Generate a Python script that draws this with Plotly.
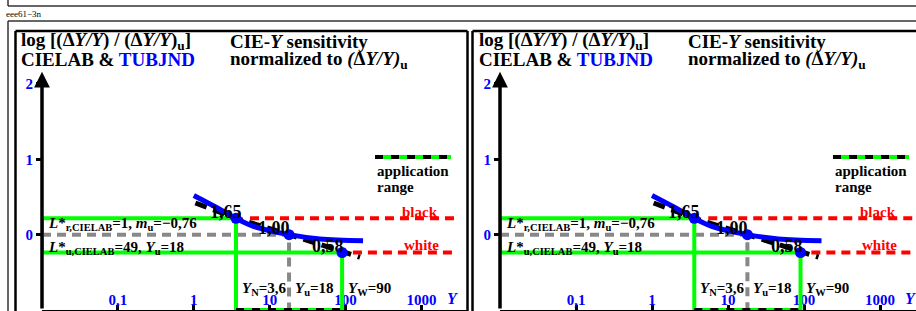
import math
import plotly.graph_objects as go

W, H = 916, 311

# ---------------- data ----------------
Y_ref = [3.6, 18, 90]                 # Y_N, Y_u, Y_W
ratio_text = ["1,65", "1,00", "0,58"]
log_ratio = [0.217, 0.0, -0.237]      # log of the ratios above

tub_Y = [1.0, 2.0, 3.6, 6.1, 18, 46, 170]          # TUBJND curve (blue)
tub_v = [0.52, 0.36, 0.217, 0.11, 0.0, -0.057, -0.08]

lab_Y = [1.05, 3.6, 18, 90, 155]                   # CIELAB curve (black dashed)
lab_v = [0.42, 0.217, 0.0, -0.237, -0.30]

red_Y_start = [5.5, 125]              # "black" / "white" red dashed lines
red_Y_end = 3000
red_v = [0.217, -0.237]

x_tickvals = [0.1, 1, 10, 100, 1000]
x_ticktext = ["0,1", "1", "10", "100", "1000"]
y_tickvals = [-1, 0, 1, 2]
y_ticktext = ["\u22121", "0", "1", "2"]

Y_AXIS = 0.01        # position of the vertical axis
Y_BOTTOM = -1        # position of the horizontal axis

FONT = "Liberation Serif, Times New Roman, serif"
GREEN = "#00ff00"
RED = "#ff0000"
BLUE = "#0000ff"
GREY = "#888888"


def P(px, py):
    return px / W, 1 - py / H


fig = go.Figure()
annotations = []
shapes = []

panels = [("x", "y", 0, [42, 467], [-2, 3.6]),
          ("x2", "y2", 458, [500, 916], [-2, -2 + (916 - 500) / 76.0])]

for xa, ya, off, dom, xr in panels:
    common = dict(xaxis=xa, yaxis=ya, hoverinfo="skip", showlegend=False)
    # grey dashed reference lines (Y_u)
    fig.add_trace(go.Scatter(x=[Y_AXIS, Y_ref[1], Y_ref[1]],
                             y=[log_ratio[1], log_ratio[1], Y_BOTTOM],
                             mode="lines", line=dict(color=GREY, width=4, dash="9px,6px"), **common))
    # green frame lines
    fig.add_trace(go.Scatter(x=[Y_ref[0], Y_ref[0], Y_AXIS, Y_AXIS, Y_ref[2], Y_ref[2]],
                             y=[Y_BOTTOM, log_ratio[0], log_ratio[0], log_ratio[2], log_ratio[2], Y_BOTTOM],
                             mode="lines", line=dict(color=GREEN, width=4), **common))
    # application range along the Y axis
    fig.add_trace(go.Scatter(x=[Y_ref[0], Y_ref[2]], y=[Y_BOTTOM, Y_BOTTOM], mode="lines",
                             line=dict(color=GREEN, width=4), **common))
    fig.add_trace(go.Scatter(x=[Y_ref[0], Y_ref[2]], y=[Y_BOTTOM, Y_BOTTOM], mode="lines",
                             line=dict(color="black", width=4, dash="8px,8px"), **common))
    # red dashed lines
    for ys, v in zip(red_Y_start, red_v):
        fig.add_trace(go.Scatter(x=[ys, red_Y_end], y=[v, v], mode="lines",
                                 line=dict(color=RED, width=4, dash="9px,6px"), **common))
    # CIELAB black dashed
    fig.add_trace(go.Scatter(x=lab_Y, y=lab_v, mode="lines",
                             line=dict(color="black", width=5, dash="12px,7px"), **common))
    # TUBJND blue curve
    fig.add_trace(go.Scatter(x=tub_Y, y=tub_v, mode="lines",
                             line=dict(color=BLUE, width=5, shape="spline"), **common))
    # dots
    fig.add_trace(go.Scatter(x=Y_ref, y=log_ratio, mode="markers",
                             marker=dict(color=BLUE, size=11), **common))

    # ratio labels
    for (yv, vv, t, dx, dy) in zip(Y_ref, log_ratio, ratio_text, [-10, -15, -14], [6, 7, 7]):
        annotations.append(dict(x=math.log10(yv), y=vv, xref=xa, yref=ya, text="<b>%s</b>" % t,
                                showarrow=False, xshift=dx, yshift=dy,
                                font=dict(family=FONT, size=18, color="black")))
    # y axis with arrow
    annotations.append(dict(x=math.log10(Y_AXIS), y=2.16, ax=math.log10(Y_AXIS), ay=Y_BOTTOM,
                            xref=xa, yref=ya, axref=xa, ayref=ya, text="", showarrow=True,
                            arrowhead=2, arrowsize=0.9, arrowwidth=3.5, arrowcolor="black"))

    def ann(px, py, text, size, color="black", xanchor="left"):
        x, y = P(px + off, py)
        annotations.append(dict(x=x, y=y, xref="paper", yref="paper", text=text,
                                showarrow=False, xanchor=xanchor, yanchor="middle",
                                font=dict(family=FONT, size=size, color=color)))

    ann(19, 40.5, "<b>log [(\u0394<i>Y/Y</i>) / (\u0394<i>Y/Y</i>)<sub>u</sub>]</b>", 19)
    ann(19, 60, "<b>CIELAB &amp; <span style='color:%s'>TUBJND</span></b>" % BLUE, 19)
    ann(228, 42, "<b>CIE-<i>Y</i> sensitivity</b>", 19)
    ann(228, 60.5, "<b>normalized to <i>(</i>\u0394<i>Y/Y)</i><sub>u</sub></b>", 19)

    ann(375, 171, "<b>application</b>", 15)
    ann(375, 187, "<b>range</b>", 15)
    ann(420, 212, "<b>black</b>", 15, RED, "center")
    ann(421, 245, "<b>white</b>", 15, RED, "center")

    ann(46, 224, "<b><i>L</i>*<sub>r,CIELAB</sub>=1, <i>m</i><sub>u</sub>=\u22120,76</b>", 15)
    ann(46, 248, "<b><i>L</i>*<sub>u,CIELAB</sub>=49, <i>Y</i><sub>u</sub>=18</b>", 15)
    ann(240, 289, "<b><i>Y</i><sub>N</sub>=3,6</b>", 15)
    ann(293, 289, "<b><i>Y</i><sub>u</sub>=18</b>", 15)
    ann(346, 289, "<b><i>Y</i><sub>W</sub>=90</b>", 15)
    ann(452, 298, "<b><i>Y</i></b>", 16, BLUE, "center")

    # legend line for application range
    x0, y0 = P(375 + off, 157)
    x1, _ = P(451 + off, 157)
    shapes.append(dict(type="line", xref="paper", yref="paper", x0=x0, x1=x1, y0=y0, y1=y0,
                       line=dict(color=GREEN, width=4)))
    shapes.append(dict(type="line", xref="paper", yref="paper", x0=x0, x1=x1, y0=y0, y1=y0,
                       line=dict(color="black", width=4, dash="8px,8px")))

# page frames
def seg(px0, py0, px1, py1, color, width):
    a, b = P(px0, py0)
    c, d = P(px1, py1)
    shapes.append(dict(type="line", xref="paper", yref="paper", x0=a, y0=b, x1=c, y1=d,
                       line=dict(color=color, width=width)))

seg(8, 0, 8, 6, "#333", 1.5)
seg(8, 6, 930, 6, "#333", 1.5)
seg(8, 21, 930, 21, "#333", 1.5)
seg(8, 21, 8, 330, "#333", 1.5)
for l, r in [(15.5, 467.5), (472.5, 940)]:
    seg(l, 31, r, 31, "black", 2.5)
    seg(l, 31, l, 330, "black", 2.5)
    seg(r, 31, r, 330, "black", 2.5)

annotations.append(dict(x=4 / W, y=1 - 14 / H, xref="paper", yref="paper", text="eee61\u22123n",
                        showarrow=False, xanchor="left", yanchor="middle",
                        font=dict(family=FONT, size=9, color="black")))

ydom = [1 - 310 / H, 1 - 31 / H]
yrange = [-1, (235 - 31) / 75.5]

layout = dict(width=W, height=H, autosize=False, margin=dict(l=0, r=0, t=0, b=0, pad=0),
              paper_bgcolor="white", plot_bgcolor="rgba(0,0,0,0)", showlegend=False,
              annotations=annotations, shapes=shapes)

for i, (xa, ya, off, dom, xr) in enumerate(panels):
    sx = "xaxis" if i == 0 else "xaxis2"
    sy = "yaxis" if i == 0 else "yaxis2"
    layout[sx] = dict(type="log", domain=[dom[0] / W, dom[1] / W], range=xr, anchor=ya,
                      showgrid=False, zeroline=False, showline=True, linewidth=4, linecolor="black",
                      ticks="inside", ticklen=5, tickwidth=2.5, tickcolor="black",
                      tickvals=x_tickvals, ticktext=x_ticktext, ticklabelposition="inside",
                      ticklabelstandoff=-3,
                      tickfont=dict(family=FONT, size=15, color=BLUE, weight="bold"),
                      layer="below traces")
    layout[sy] = dict(domain=ydom, range=yrange, anchor=xa, showgrid=False, zeroline=False,
                      showline=False, ticks="outside", ticklen=5, tickwidth=3, tickcolor="black",
                      tickvals=y_tickvals, ticktext=y_ticktext,
                      tickfont=dict(family=FONT, size=15, color=BLUE, weight="bold"))

fig.update_layout(**layout)
fig.write_html("out.html", config={"displayModeBar": False},
               post_script="document.body.style.margin='0';document.body.style.overflow='hidden';")
